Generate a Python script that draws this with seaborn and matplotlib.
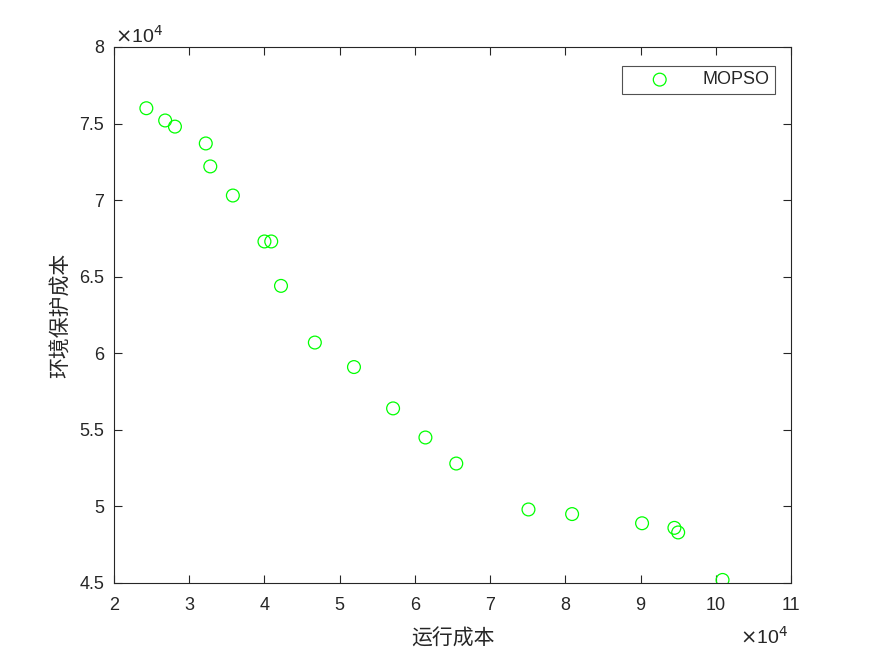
import numpy as np
import pandas as pd
import seaborn as sns
import matplotlib.pyplot as plt

# data (units of 1e4)
run_cost = [2.43, 2.68, 2.81, 3.22, 3.28, 3.58, 4.00, 4.09, 4.22, 4.67,
            5.19, 5.71, 6.14, 6.55, 7.51, 8.09, 9.02, 9.45, 9.50, 10.09]
env_cost = [7.60, 7.52, 7.48, 7.37, 7.22, 7.03, 6.73, 6.73, 6.44, 6.07,
            5.91, 5.64, 5.45, 5.28, 4.98, 4.95, 4.89, 4.86, 4.83, 4.52]
xticks = [2, 3, 4, 5, 6, 7, 8, 9, 10, 11]
yticks = [4.5, 5, 5.5, 6, 6.5, 7, 7.5, 8]

df = pd.DataFrame({"运行成本": run_cost, "环境保护成本": env_cost})

sns.set_style("white")
plt.rcParams['font.family'] = ['Liberation Sans', 'Noto Sans CJK SC', 'DejaVu Sans']

fig = plt.figure(figsize=(8.75, 6.56), dpi=100)
ax = fig.add_axes([0.1303, 0.1113, 0.7737, 0.8171])

sns.scatterplot(data=df, x="运行成本", y="环境保护成本", ax=ax, s=85, marker="o",
                color="#00ff00", linewidth=0.9, label="MOPSO")
ax.collections[0].set_facecolor("none")
ax.collections[0].set_edgecolor("#00ff00")

ax.set_xlim(2, 11)
ax.set_ylim(4.5, 8)
ax.set_xticks(xticks)
ax.set_xticklabels([str(t) for t in xticks])
ax.set_yticks(yticks)
ax.set_yticklabels([("%g" % t) for t in yticks])
ax.tick_params(direction="in", length=6, width=0.8, labelsize=13, pad=7,
               top=True, right=True, bottom=True, left=True, colors="#262626")
ax.tick_params(axis="x", pad=10)
for sp in ax.spines.values():
    sp.set_color("#262626")
    sp.set_linewidth(0.8)

ax.set_xlabel("运行成本", fontsize=15, family=['Noto Sans CJK SC'], color="#262626", labelpad=10)
ax.set_ylabel("环境保护成本", fontsize=15, family=['Noto Sans CJK SC'], color="#262626", labelpad=5)

fig.text(0.131, 0.934, r"$\times$10$^4$", fontsize=14, color="#262626")
fig.text(0.846, 0.018, r"$\times$10$^4$", fontsize=14, color="#262626")

leg = ax.legend(loc="upper right", bbox_to_anchor=(0.9764, 0.9646),
                frameon=True, fancybox=False, fontsize=13, handletextpad=0.6,
                borderpad=0.3, handlelength=3.55, borderaxespad=0)
leg.get_frame().set_edgecolor("#262626")
leg.get_frame().set_linewidth(0.8)
for hnd in leg.legend_handles:
    hnd.set_facecolor("none")
    hnd.set_edgecolor("#00ff00")

fig.savefig("out.png", dpi=100)
